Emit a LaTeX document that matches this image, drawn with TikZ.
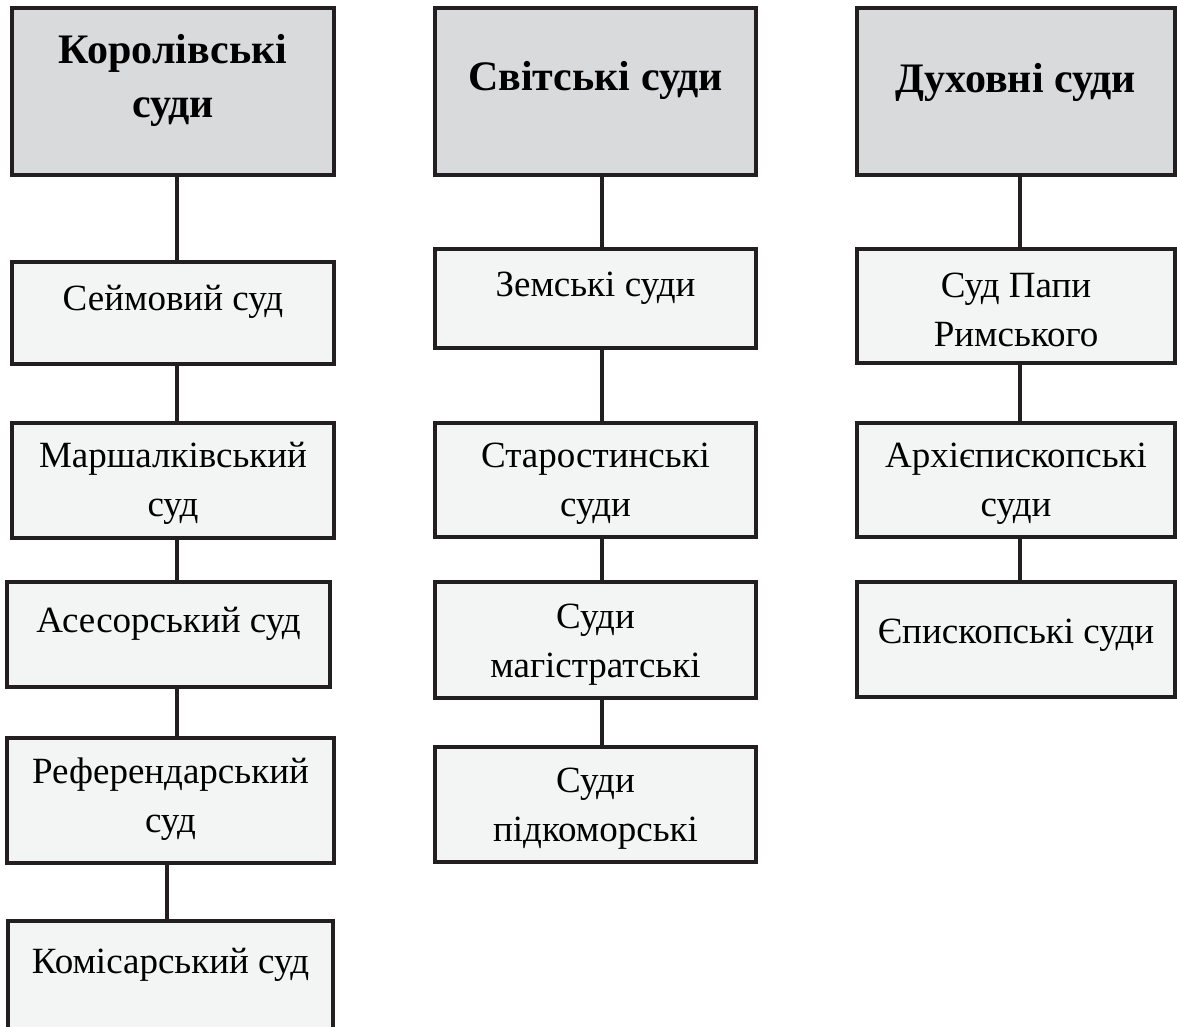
\documentclass[tikz,border=0pt]{standalone}
\usepackage{fontspec}
\setmainfont{Liberation Serif}
\definecolor{hdrgray}{HTML}{D9DADC}
\definecolor{boxgray}{HTML}{F3F4F4}
\definecolor{inkblack}{HTML}{231F20}
\tikzset{
  courtbase/.style = {rectangle, draw=inkblack, line width=3.2pt,
                      inner sep=0pt, outer sep=0pt, align=flush center,
                      anchor=north},
  courthead/.style = {courtbase, fill=hdrgray,
                      font=\fontsize{42}{54}\selectfont\bfseries},
  courtbox/.style  = {courtbase, fill=boxgray,
                      font=\fontsize{37}{49}\selectfont},
  courtdims/.style n args = {3}{text width=#1pt, text height=#2pt,
                      text depth=#3pt},
  courtlink/.style = {draw=inkblack, line width=3.2pt},
}
\begin{document}
\begin{tikzpicture}[x=1pt, y=-1pt]
  \useasboundingbox (0,0) rectangle (1177,1026);
  % royal courts
  \node[courthead, courtdims={322}{55}{112}] (k1) at (173,8) {Королівські\\суди};
  \node[courtbox, courtdims={322}{48}{54}] (k2) at (173,262) {Сеймовий суд};
  \node[courtbox, courtdims={322}{44}{71}] (k3) at (173,423) {Маршалківський\\суд};
  \node[courtbox, courtdims={323}{50}{55}] (k4) at (168.5,582) {Асесорський суд};
  \node[courtbox, courtdims={327}{45}{80}] (k5) at (170.5,738) {Референдарський\\суд};
  \node[courtbox, courtdims={325}{52}{130}] (k6) at (170.5,921) {Комісарський суд};
  \draw[courtlink] (k1.south -| 177,0) -- (k2.north -| 177,0);
  \draw[courtlink] (k2.south -| 177,0) -- (k3.north -| 177,0);
  \draw[courtlink] (k3.south -| 177,0) -- (k4.north -| 177,0);
  \draw[courtlink] (k4.south -| 177,0) -- (k5.north -| 177,0);
  \draw[courtlink] (k5.south -| 167,0) -- (k6.north -| 167,0);
  % secular courts
  \node[courthead, courtdims={321}{82}{85}] (s1) at (595.5,8) {Світські суди};
  \node[courtbox, courtdims={321}{47}{52}] (s2) at (595.5,249) {Земські суди};
  \node[courtbox, courtdims={321}{44}{70}] (s3) at (595.5,423) {Старостинські\\суди};
  \node[courtbox, courtdims={321}{46}{70}] (s4) at (595.5,582) {Суди\\магістратські};
  \node[courtbox, courtdims={321}{45}{70}] (s5) at (595.5,747) {Суди\\підкоморські};
  \draw[courtlink] (s1.south -| 602,0) -- (s2.north -| 602,0);
  \draw[courtlink] (s2.south -| 602,0) -- (s3.north -| 602,0);
  \draw[courtlink] (s3.south -| 602,0) -- (s4.north -| 602,0);
  \draw[courtlink] (s4.south -| 602,0) -- (s5.north -| 602,0);
  % church courts
  \node[courthead, courtdims={318}{84}{83}] (d1) at (1016,8) {Духовні суди};
  \node[courtbox, courtdims={318}{48}{66}] (d2) at (1016,249) {Суд Папи\\Римського};
  \node[courtbox, courtdims={318}{44}{70}] (d3) at (1016,423) {Архієпископські\\суди};
  \node[courtbox, courtdims={318}{61}{54}] (d4) at (1016,582) {Єпископські суди};
  \draw[courtlink] (d1.south -| 1020,0) -- (d2.north -| 1020,0);
  \draw[courtlink] (d2.south -| 1020,0) -- (d3.north -| 1020,0);
  \draw[courtlink] (d3.south -| 1020,0) -- (d4.north -| 1020,0);
\end{tikzpicture}
\end{document}
